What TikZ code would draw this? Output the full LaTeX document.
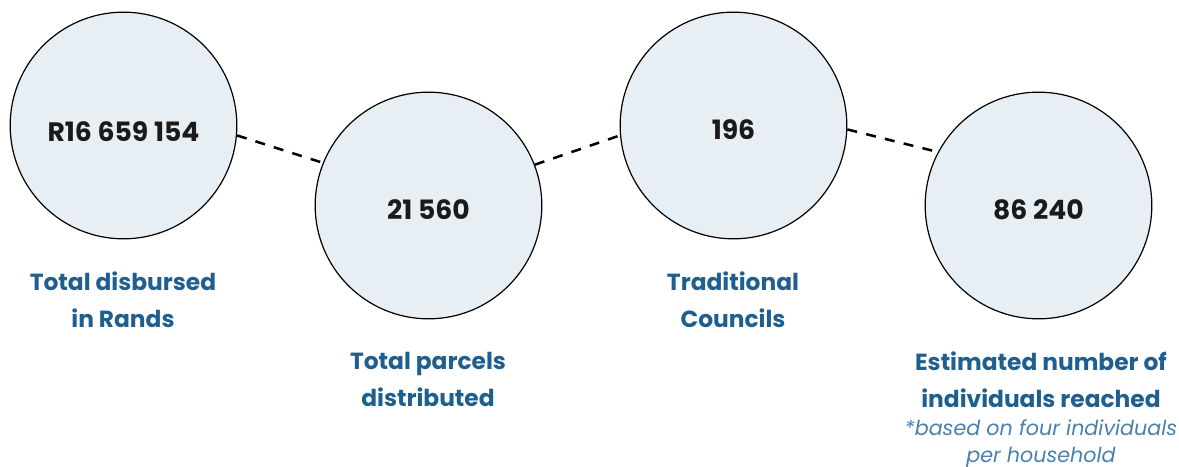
\documentclass[tikz,border=0pt]{standalone}
\usepackage{fontspec}
\setmainfont{Poppins}
\definecolor{statfill}{HTML}{E7EFF5}
\definecolor{capblue}{HTML}{1F5F8F}
\definecolor{noteblue}{HTML}{4A80AD}
\definecolor{figink}{HTML}{1A1A1A}
\begin{document}
\begin{tikzpicture}[x=0.75pt,y=0.75pt,
stat/.style={circle,draw=black,fill=statfill,line width=0.9pt,minimum size=170pt,inner sep=0pt},
figure/.style={text=figink,font=\fontsize{20}{24}\selectfont\bfseries},
caption/.style={text=capblue,align=center,font=\fontsize{17.5}{27.75}\selectfont\bfseries},
note/.style={text=noteblue,align=center,font=\fontsize{15.5}{20.25}\selectfont\itshape},
link/.style={line width=1.9pt,dash pattern=on 7.5pt off 7pt}]

\useasboundingbox (0,0) rectangle (1179,467);

\node (c1) at (123.5,341.5) [stat] {};
\node (c2) at (428.5,261.5) [stat] {};
\node (c3) at (733.5,341.5) [stat] {};
\node (c4) at (1038.5,261.5) [stat] {};

\node (v1) at (123.5,335) [figure] {R16 659 154};
\node (v2) at (428.5,257) [figure] {21 560};
\node (v3) at (733.5,337) [figure] {196};
\node (v4) at (1038.5,257) [figure] {86 240};

\node (l1) at (123,167.5) [caption] {Total disbursed\\in Rands};
\node (l2) at (428,87.5) [caption] {Total parcels\\distributed};
\node (l3) at (733,167.5) [caption] {Traditional\\Councils};
\node (l4) at (1041,87.5) [caption] {Estimated number of\\individuals reached};
\node (n4) at (1041,23.5) [note] {*based on four individuals\\per household};

\draw [link] (c1.-5.8) -- (c2.158);
\draw [link] (c2.21.8) -- (c3.185.7);
\draw [link] (c3.-2) -- (c4.152.4);

\end{tikzpicture}
\end{document}
